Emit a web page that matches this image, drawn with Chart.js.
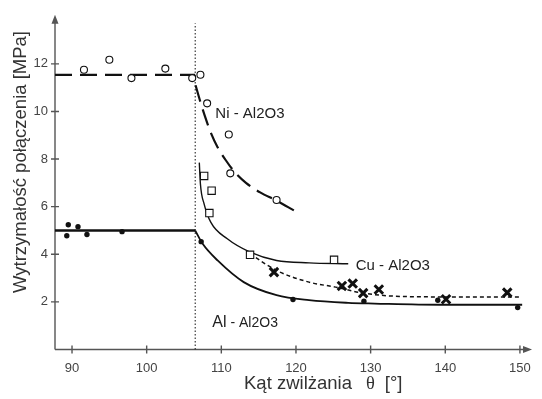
<!DOCTYPE html>
<html>
<head>
<meta charset="utf-8">
<script src="https://cdn.jsdelivr.net/npm/chart.js@4.4.1/dist/chart.umd.min.js"></script>
<style>
  html, body { margin: 0; padding: 0; background: #fff; }
</style>
</head>
<body>
<canvas id="chart" width="542" height="399"></canvas>
<script>
// tick labels
const xTicks = [90, 100, 110, 120, 130, 140, 150];
const yTicks = [2, 4, 6, 8, 10, 12];

// Ni - Al2O3 (open circles, long dashed line)
const niPtsX = [91.6, 95.0, 97.96, 102.5, 106.1, 107.2, 108.1, 111.0, 111.2, 117.4];
const niPtsY = [11.75, 12.17, 11.4, 11.8, 11.4, 11.54, 10.34, 9.03, 7.4, 6.28];
const niFlatX = [87.72, 106.5];
const niFlatY = [11.54, 11.54];
const niCurveX = [106.55, 107.1, 107.8, 108.6, 109.5, 110.6, 111.8, 113.3, 115.2, 117.4, 119.8];
const niCurveY = [11.1, 10.5, 9.8, 9.1, 8.5, 7.95, 7.45, 7.0, 6.6, 6.25, 5.83];

// Cu - Al2O3 (open squares, solid thin line)
const cuPtsX = [107.7, 108.7, 108.4, 113.85, 125.1];
const cuPtsY = [7.29, 6.67, 5.73, 3.98, 3.77];
const cuCurveX = [107.05, 107.2, 107.7, 108.6, 110.8, 113.85, 117.4, 121.75, 127.0];
const cuCurveY = [7.85, 6.95, 6.11, 5.34, 4.65, 4.09, 3.74, 3.64, 3.60];

// crosses with short dashed line
const crPtsX = [117.05, 126.15, 127.6, 129.0, 131.1, 140.1, 148.3];
const crPtsY = [3.25, 2.67, 2.77, 2.37, 2.52, 2.11, 2.39];
const crCurveX = [113.85, 117.4, 121.75, 125.3, 128.8, 133.2, 139.8, 149.9];
const crCurveY = [4.02, 3.32, 2.83, 2.62, 2.38, 2.24, 2.21, 2.21];

// Al - Al2O3 (filled dots, solid line)
const alPtsX = [89.3, 89.5, 90.8, 92.0, 96.7, 107.3, 119.6, 129.1, 139.0, 149.7];
const alPtsY = [4.78, 5.24, 5.16, 4.83, 4.95, 4.53, 2.10, 2.03, 2.07, 1.76];
const alFlatX = [87.72, 106.5];
const alFlatY = [5.0, 5.0];
const alCurveX = [106.5, 107.5, 109.5, 113.0, 117.4, 121.75, 127.0, 130.5, 139.3, 150.3];
const alCurveY = [5.0, 4.44, 3.74, 2.83, 2.28, 2.07, 1.96, 1.93, 1.88, 1.88];

// critical angle (dotted vertical)
const critX = [106.5, 106.5];
const critY = [0, 13.7];

const pts = (xs, ys) => xs.map((x, i) => ({ x: x, y: ys[i] }));
const INK = '#111';
const SANS = '"Liberation Sans", Arial, sans-serif';

function lineSet(xs, ys, width, dash, smooth) {
  return {
    data: pts(xs, ys),
    showLine: true,
    borderColor: INK,
    borderWidth: width,
    borderDash: dash,
    pointRadius: 0,
    fill: false,
    cubicInterpolationMode: smooth ? 'monotone' : 'default',
    tension: 0,
    order: 2
  };
}

function markSet(xs, ys, style, radius, fillColor, bw) {
  return {
    data: pts(xs, ys),
    showLine: false,
    pointStyle: style,
    pointRadius: radius,
    pointBackgroundColor: fillColor,
    pointBorderColor: INK,
    pointBorderWidth: bw,
    order: 1
  };
}

const decor = {
  id: 'decor',
  beforeDatasetsDraw(chart) {
    const ctx = chart.ctx;
    const a = chart.chartArea;
    const sx = chart.scales.x, sy = chart.scales.y;
    const x0 = a.left, y0 = a.bottom;
    ctx.save();
    ctx.strokeStyle = '#555';
    ctx.fillStyle = '#555';
    ctx.lineWidth = 1.4;
    ctx.beginPath();
    ctx.moveTo(x0, y0); ctx.lineTo(x0, a.top + 6);
    ctx.moveTo(x0, y0); ctx.lineTo(a.right - 6, y0);
    xTicks.forEach(v => { const p = sx.getPixelForValue(v); ctx.moveTo(p, y0 - 4); ctx.lineTo(p, y0 + 4); });
    yTicks.forEach(v => { const p = sy.getPixelForValue(v); ctx.moveTo(x0 - 4, p); ctx.lineTo(x0 + 4, p); });
    ctx.stroke();
    // arrow heads
    ctx.beginPath();
    ctx.moveTo(x0, a.top); ctx.lineTo(x0 - 3.5, a.top + 9); ctx.lineTo(x0 + 3.5, a.top + 9); ctx.closePath();
    ctx.moveTo(a.right, y0); ctx.lineTo(a.right - 9, y0 - 3.5); ctx.lineTo(a.right - 9, y0 + 3.5); ctx.closePath();
    ctx.fill();
    ctx.restore();
  },
  afterDraw(chart) {
    const ctx = chart.ctx;
    const sx = chart.scales.x, sy = chart.scales.y;
    ctx.save();
    ctx.fillStyle = '#222';
    ctx.textBaseline = 'middle';
    ctx.textAlign = 'left';
    ctx.font = '15px ' + SANS;
    ctx.fillText('Ni - Al2O3', sx.getPixelForValue(109.2), sy.getPixelForValue(9.91));
    ctx.fillText('Cu - Al2O3', sx.getPixelForValue(128.0), sy.getPixelForValue(3.53));
    const ax = sx.getPixelForValue(108.8), ay = sy.getPixelForValue(1.12);
    ctx.font = '16px ' + SANS;
    ctx.fillText('Al', ax, ay);
    const w = ctx.measureText('Al').width;
    ctx.font = '14px ' + SANS;
    ctx.fillText(' - Al2O3', ax + w, ay + 0.5);

    // axis titles
    ctx.fillStyle = '#333';
    ctx.font = '18.5px ' + SANS;
    ctx.save();
    ctx.translate(21, 162);
    ctx.rotate(-Math.PI / 2);
    ctx.textAlign = 'center';
    ctx.fillText('Wytrzymałość połączenia [MPa]', 0, 0);
    ctx.restore();

    let tx = 244, ty = 384;
    ctx.textAlign = 'left';
    ctx.fillText('Kąt zwilżania', tx, ty);
    tx += ctx.measureText('Kąt zwilżania').width + 14;
    ctx.font = '18.5px "Liberation Serif", "Times New Roman", serif';
    ctx.fillText('θ', tx, ty);
    tx += ctx.measureText('θ').width + 10;
    ctx.font = '18.5px ' + SANS;
    ctx.fillText('[°]', tx, ty);
    ctx.restore();
  }
};

const tickFont = { family: SANS, size: 13 };

new Chart(document.getElementById('chart'), {
  type: 'scatter',
  data: {
    datasets: [
      lineSet(critX, critY, 1, [1.5, 2], false),
      lineSet(niFlatX, niFlatY, 2.2, [17, 8], false),
      lineSet(niCurveX, niCurveY, 2.2, [17, 8], true),
      lineSet(cuCurveX, cuCurveY, 1.4, [], true),
      lineSet(crCurveX, crCurveY, 1.5, [4, 3], true),
      lineSet(alFlatX, alFlatY, 2.4, [], false),
      lineSet(alCurveX, alCurveY, 1.8, [], true),
      markSet(niPtsX, niPtsY, 'circle', 3.5, '#fff', 1.1),
      markSet(cuPtsX, cuPtsY, 'rect', 5.2, '#fff', 1.1),
      markSet(crPtsX, crPtsY, 'crossRot', 6, INK, 3),
      markSet(alPtsX, alPtsY, 'circle', 2.7, INK, 0)
    ]
  },
  options: {
    responsive: false,
    animation: false,
    events: [],
    layout: { padding: { top: 13, right: 2, left: 0, bottom: 0 } },
    plugins: { legend: { display: false }, tooltip: { enabled: false } },
    scales: {
      x: {
        type: 'linear',
        min: 87.72,
        max: 151.62,
        afterBuildTicks: s => { s.ticks = xTicks.map(v => ({ value: v })); },
        afterFit: s => { s.height = 49.5; },
        grid: { display: false, drawTicks: false },
        border: { display: false },
        ticks: { padding: 11, font: tickFont, color: '#444', maxRotation: 0 }
      },
      y: {
        type: 'linear',
        min: 0,
        max: 14.06,
        afterBuildTicks: s => { s.ticks = yTicks.map(v => ({ value: v })); },
        afterFit: s => { s.width = 55; },
        grid: { display: false, drawTicks: false },
        border: { display: false },
        ticks: { padding: 7, font: tickFont, color: '#444' }
      }
    }
  },
  plugins: [decor]
});
</script>
</body>
</html>
